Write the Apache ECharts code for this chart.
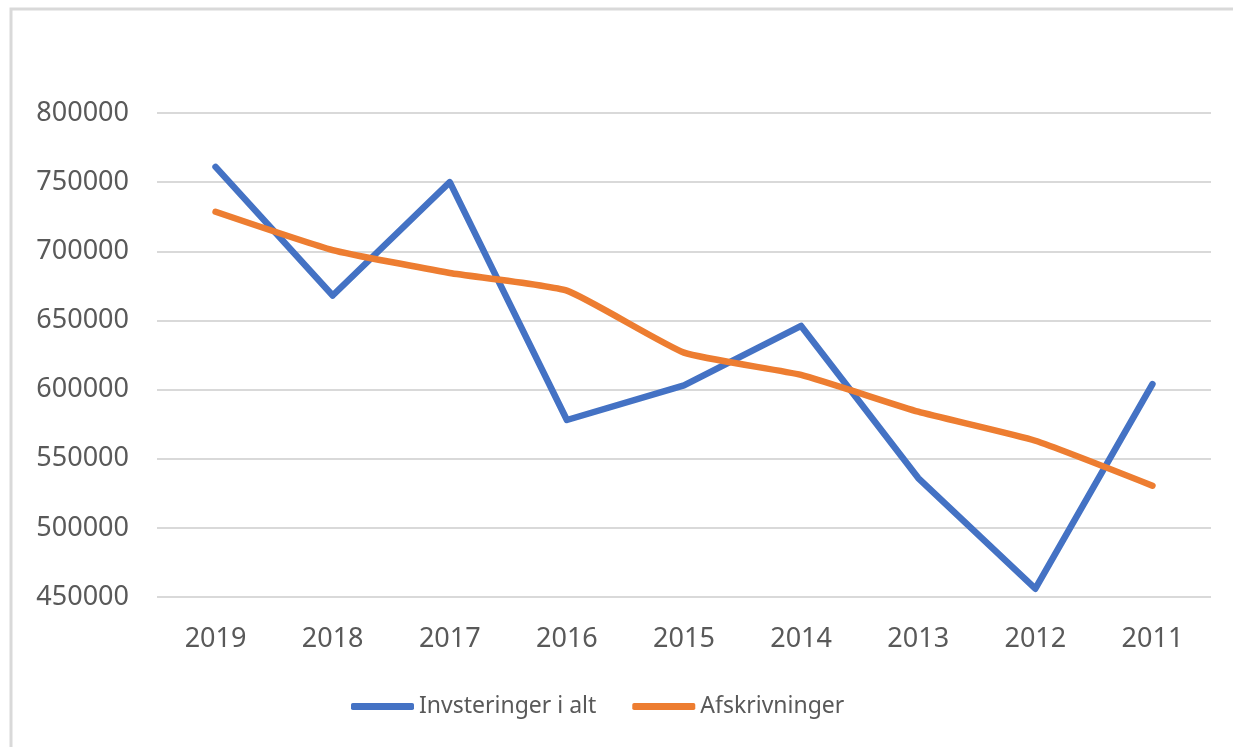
<!DOCTYPE html>
<html style="height: 100%">
<head>
    <meta charset="utf-8">
    <title>Investeringer og afskrivninger</title>
    <script src="https://cdn.jsdelivr.net/npm/echarts@6/dist/echarts.min.js"></script>
</head>
<body style="height: 100%; margin: 0; background: #fff">
<div id="main" style="width: 1233px; height: 747px"></div>

<script type="text/javascript">
    var years = ['2019', '2018', '2017', '2016', '2015', '2014', '2013', '2012', '2011'];
    var investeringer = [761000, 668000, 750000, 578000, 603000, 646000, 536000, 456000, 604000];
    var afskrivninger = [728600, 700900, 684300, 671500, 626700, 610600, 584000, 563000, 530500];

    var font = 'Noto Sans';
    var myChart = echarts.init(document.getElementById('main'));

    var option = {
        backgroundColor: '#fff',
        animation: false,
        graphic: [{
            type: 'rect',
            shape: {x: 11, y: 9, width: 1300, height: 800},
            style: {fill: 'none', stroke: '#d9d9d9', lineWidth: 3}
        }],
        grid: {left: 157, right: 22, top: 113, bottom: 150},
        legend: {
            bottom: 24,
            left: 346,
            icon: 'roundRect',
            itemWidth: 63,
            itemHeight: 7,
            itemGap: 36,
            textStyle: {fontFamily: font, fontSize: 23, color: '#595959'},
            data: ['Invsteringer i alt', 'Afskrivninger']
        },
        xAxis: {
            type: 'category',
            data: years,
            boundaryGap: true,
            axisLine: {show: false},
            axisTick: {show: false},
            axisLabel: {margin: 29, fontFamily: font, fontSize: 27, color: '#595959'}
        },
        yAxis: {
            type: 'value',
            min: 450000,
            max: 800000,
            interval: 50000,
            axisLine: {show: false},
            axisTick: {show: false},
            axisLabel: {
                margin: 28, fontFamily: font, fontSize: 27, color: '#595959',
                formatter: function (v) { return String(v); }
            },
            splitLine: {lineStyle: {color: '#d9d9d9', width: 2}}
        },
        series: [
            {
                name: 'Invsteringer i alt',
                type: 'line',
                data: investeringer,
                symbol: 'none',
                color: '#4472C4',
                lineStyle: {width: 6.5, cap: 'round', join: 'round'}
            },
            {
                name: 'Afskrivninger',
                type: 'line',
                data: afskrivninger,
                symbol: 'none',
                smooth: 0.15,
                color: '#ED7D31',
                lineStyle: {width: 6.5, cap: 'round', join: 'round'}
            }
        ]
    };
    myChart.setOption(option, true);
</script>
</body>
</html>
